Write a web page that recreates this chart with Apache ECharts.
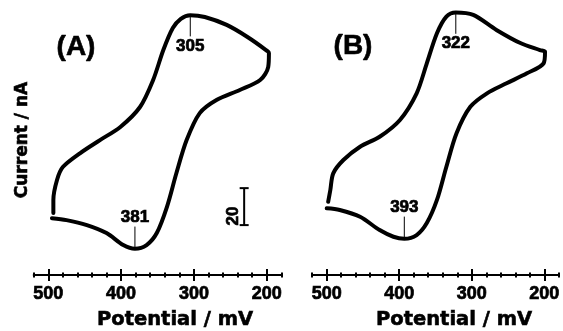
<!DOCTYPE html>
<html>
<head>
<meta charset="utf-8">
<script src="https://cdn.jsdelivr.net/npm/echarts@6/dist/echarts.min.js"></script>
<style>
  html, body { margin: 0; padding: 0; background: #fff; }
  #chart { width: 563px; height: 331px; }
</style>
</head>
<body>
<div id="chart"></div>
<script>
// Cyclic voltammograms, potential in mV (axis runs 500 -> 200), current in nA
const potentialTicks = [200, 300, 400, 500];

// Panel A: forward sweep (lower branch) then return sweep (upper branch)
const cvA_potential = [495, 475, 447, 420, 397, 381, 365, 351, 337, 324, 310, 292, 269, 237, 209, 198, 197,
                       201, 227, 255, 285, 305, 318, 329, 342, 356, 374, 401, 429, 456, 480, 488, 493, 493];
const cvA_current = [-59.3, -60.3, -63.0, -67.3, -73.8, -75.8, -73.8, -67.3, -53.1, -34.8, -17.0, -2.4, 4.7, 10.1, 15.5, 22.5, 30.1,
                     31.7, 38.9, 45.3, 49.6, 50.6, 48.6, 43.6, 31.7, 15.5, 0.9, -9.9, -17.0, -24.0, -31.6, -38.6, -49.4, -56.5];

// Panel B
const cvB_potential = [500, 482, 454, 427, 408, 393, 376, 362, 348, 335, 321, 302, 279, 252, 224, 201, 199,
                       206, 233, 266, 298, 322, 335, 348, 362, 376, 399, 427, 454, 477, 491, 495, 498];
const cvB_current = [-53.9, -54.8, -58.5, -65.7, -69.3, -70.4, -68.4, -61.9, -49.4, -31.4, -13.3, 1.0, 8.3, 13.7, 19.1, 24.5, 30.8,
                     31.7, 35.5, 42.6, 50.7, 52.0, 49.8, 40.8, 24.5, 8.3, -6.1, -15.2, -20.6, -27.8, -35.0, -44.0, -50.4];

// Peak potentials (mV): [top peak, bottom peak] and the current at each peak
const peaksA = [305, 381];
const peaksB = [322, 393];
const peakCurrentA = [50.6, -75.8];
const peakCurrentB = [52.0, -70.4];

// Current scale bar (nA)
const scaleBarNA = 20;
const scaleBarBase = -63;
const scaleBarPotential = 231;

const FONT = "'Liberation Sans', Arial, Helvetica, sans-serif";
const TITLE_FONT = "'DejaVu Sans', Verdana, sans-serif";
const pair = (xs, ys) => xs.map((x, i) => [x, ys[i]]);
const heavy = { textBorderColor: '#000', textBorderWidth: 0.7 };

function xAxesFor(gridIndex) {
  const base = {
    gridIndex, type: 'value', min: 180, max: 520, inverse: true, interval: 20,
    position: 'bottom', splitLine: { show: false }
  };
  const lineStyle = { color: '#000', width: 2 };
  return [
    // main axis: line, major ticks pointing down, labels
    Object.assign({}, base, {
      axisLine: { show: true, onZero: false, lineStyle },
      axisTick: { show: true, inside: false, length: 6, customValues: potentialTicks, lineStyle },
      axisLabel: Object.assign({ show: true, customValues: potentialTicks, margin: 10, color: '#000',
                   fontFamily: FONT, fontWeight: 'bold', fontSize: 18 }, heavy)
    }),
    // major ticks pointing up
    Object.assign({}, base, {
      axisLine: { show: false, onZero: false },
      axisTick: { show: true, inside: true, length: 6, customValues: potentialTicks, lineStyle },
      axisLabel: { show: false }
    }),
    // minor ticks every 20 mV, both sides
    Object.assign({}, base, {
      axisLine: { show: false, onZero: false },
      axisTick: { show: true, inside: false, length: 2.5, lineStyle },
      axisLabel: { show: false }
    }),
    Object.assign({}, base, {
      axisLine: { show: false, onZero: false },
      axisTick: { show: true, inside: true, length: 2.5, lineStyle },
      axisLabel: { show: false }
    })
  ];
}

function cvSeries(xi, yi, data) {
  return {
    type: 'line', xAxisIndex: xi, yAxisIndex: yi, data, smooth: 0.3,
    showSymbol: false, symbol: 'none', silent: true,
    lineStyle: { color: '#000', width: 4, cap: 'round', join: 'round' }
  };
}

// leader line from a peak to its label, plus the label itself
function peakSeries(xi, yi, potential, current, up) {
  const end = up ? current + 12 : current - 11.5;
  return [
    {
      type: 'line', xAxisIndex: xi, yAxisIndex: yi, silent: true,
      data: [[potential, current], [potential, end]],
      symbol: 'none', showSymbol: false,
      lineStyle: { color: '#000', width: 1 }
    },
    {
      type: 'scatter', xAxisIndex: xi, yAxisIndex: yi, silent: true,
      data: [[potential, end]], symbolSize: 0, itemStyle: { opacity: 1 },
      label: Object.assign({ show: true, position: up ? 'top' : 'bottom', distance: 1,
               formatter: String(potential), color: '#000',
               fontFamily: FONT, fontWeight: 'bold', fontSize: 17 }, heavy)
    }
  ];
}

const chart = echarts.init(document.getElementById('chart'), null, { renderer: 'canvas' });

const labelText = (text, x, y, size, family, rot) => ({
  type: 'text', x, y, rotation: rot || 0,
  style: { text, fill: '#000', font: `bold ${size}px ${family}`,
           textAlign: 'center', textVerticalAlign: 'middle', stroke: '#000', lineWidth: 0.6 }
});

chart.setOption({
  animation: false,
  backgroundColor: '#fff',
  grid: [
    { left: 33.7, width: 247.6, top: 7, height: 268, outerBoundsMode: 'none', containLabel: false },
    { left: 312.2, width: 246.6, top: 7, height: 268, outerBoundsMode: 'none', containLabel: false }
  ],
  xAxis: [...xAxesFor(0), ...xAxesFor(1)],
  yAxis: [
    { gridIndex: 0, type: 'value', min: -90, max: 55, show: false },
    { gridIndex: 1, type: 'value', min: -90, max: 55, show: false }
  ],
  series: [
    cvSeries(0, 0, pair(cvA_potential, cvA_current)),
    cvSeries(4, 1, pair(cvB_potential, cvB_current)),
    ...peakSeries(0, 0, peaksA[0], peakCurrentA[0], false),
    ...peakSeries(0, 0, peaksA[1], peakCurrentA[1], true),
    ...peakSeries(4, 1, peaksB[0], peakCurrentB[0], false),
    ...peakSeries(4, 1, peaksB[1], peakCurrentB[1], true),
    // scale bar
    {
      type: 'line', xAxisIndex: 0, yAxisIndex: 0, silent: true,
      data: [[scaleBarPotential, scaleBarBase], [scaleBarPotential, scaleBarBase + scaleBarNA]],
      symbol: 'rect', symbolSize: [9, 2], showSymbol: true,
      itemStyle: { color: '#000' },
      lineStyle: { color: '#000', width: 2 }
    },
    {
      type: 'scatter', xAxisIndex: 0, yAxisIndex: 0, silent: true,
      data: [[scaleBarPotential, scaleBarBase + scaleBarNA / 2]], symbolSize: 0, itemStyle: { opacity: 1 },
      label: Object.assign({ show: true, position: 'left', distance: 11, rotate: 90, formatter: String(scaleBarNA),
               color: '#000', fontFamily: FONT, fontWeight: 'bold', fontSize: 17 }, heavy)
    }
  ],
  graphic: [
    labelText('(A)', 76, 47, 28, FONT),
    labelText('(B)', 353, 46, 28, FONT),
    labelText('Current / nA', 23, 140, 17, TITLE_FONT, Math.PI / 2),
    labelText('Potential / mV', 175, 320, 19.5, TITLE_FONT),
    labelText('Potential / mV', 454, 320, 19.5, TITLE_FONT)
  ]
});
</script>
</body>
</html>
